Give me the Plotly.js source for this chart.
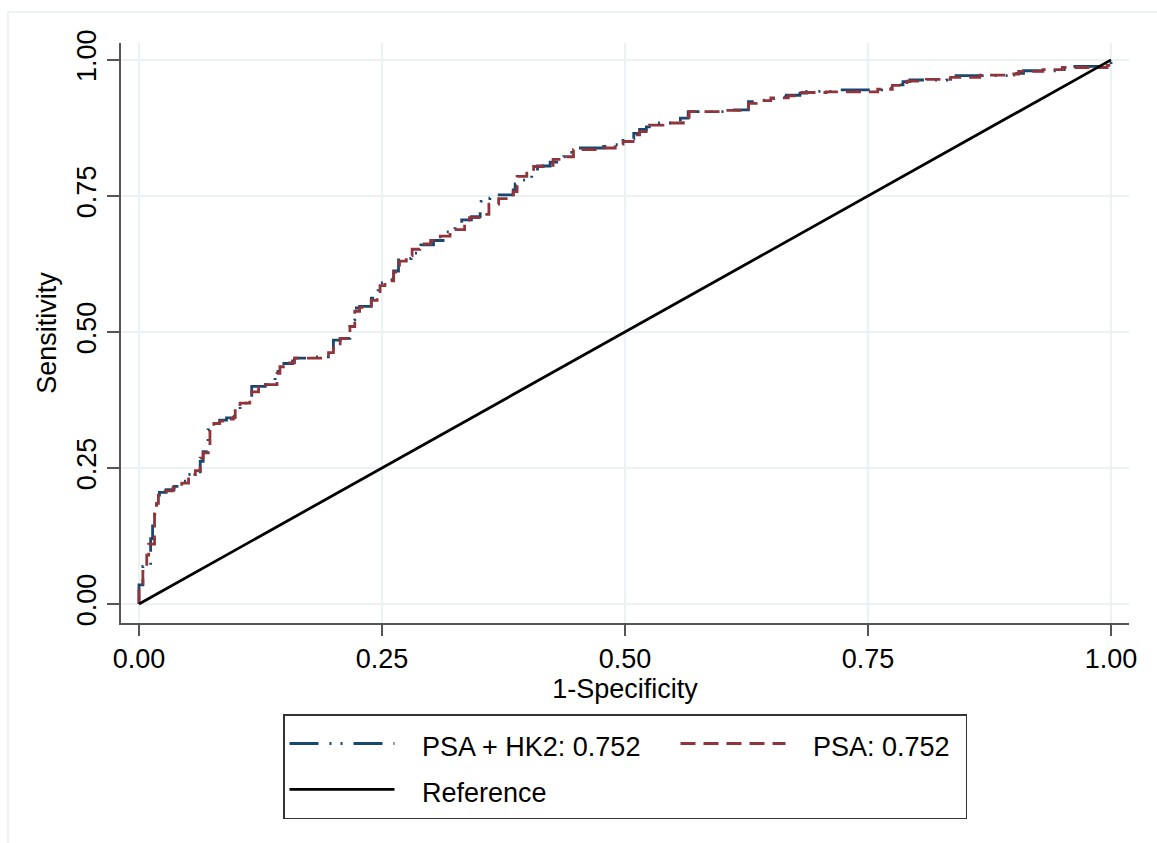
<!DOCTYPE html>
<html>
<head>
<meta charset="utf-8">
<script src="https://cdn.plot.ly/plotly-3.0.1.min.js"></script>
<style>html,body{margin:0;padding:0;background:#fff;}#chart{width:1157px;height:843px;}</style>
</head>
<body>
<div id="chart"></div>
<script>
// ROC curve: PSA + HK2 (1-specificity, sensitivity)
var xPsaHk2 = [0, 0, 0.004, 0.012, 0.014, 0.018, 0.021, 0.028, 0.036, 0.044, 0.050, 0.058, 0.063, 0.066, 0.071, 0.076, 0.083, 0.090, 0.098, 0.104, 0.114, 0.116, 0.130, 0.140, 0.143, 0.158, 0.160, 0.180, 0.195, 0.200, 0.207, 0.217, 0.222, 0.227, 0.239, 0.245, 0.246, 0.253, 0.262, 0.267, 0.280, 0.283, 0.290, 0.303, 0.315, 0.325, 0.332, 0.342, 0.351, 0.352, 0.361, 0.368, 0.385, 0.387, 0.395, 0.404, 0.410, 0.423, 0.437, 0.443, 0.447, 0.478, 0.485, 0.495, 0.498, 0.509, 0.515, 0.522, 0.529, 0.557, 0.565, 0.604, 0.627, 0.634, 0.646, 0.653, 0.666, 0.680, 0.687, 0.714, 0.764, 0.774, 0.786, 0.793, 0.831, 0.838, 0.903, 0.910, 0.951, 0.955, 0.996, 1];
var yPsaHk2 = [0, 0.035, 0.069, 0.120, 0.165, 0.190, 0.205, 0.210, 0.216, 0.226, 0.238, 0.243, 0.262, 0.280, 0.320, 0.332, 0.338, 0.342, 0.345, 0.369, 0.372, 0.400, 0.403, 0.423, 0.442, 0.447, 0.452, 0.454, 0.460, 0.485, 0.488, 0.522, 0.544, 0.547, 0.562, 0.572, 0.590, 0.596, 0.612, 0.635, 0.642, 0.645, 0.660, 0.668, 0.684, 0.690, 0.706, 0.712, 0.724, 0.740, 0.746, 0.752, 0.761, 0.772, 0.779, 0.792, 0.805, 0.812, 0.822, 0.830, 0.838, 0.841, 0.844, 0.850, 0.855, 0.865, 0.872, 0.877, 0.884, 0.893, 0.905, 0.908, 0.923, 0.926, 0.929, 0.932, 0.935, 0.939, 0.942, 0.945, 0.948, 0.954, 0.960, 0.963, 0.966, 0.971, 0.975, 0.980, 0.982, 0.988, 0.991, 1];

// ROC curve: PSA
var xPsa = [0, 0, 0.004, 0.008, 0.010, 0.016, 0.018, 0.020, 0.025, 0.035, 0.044, 0.051, 0.058, 0.063, 0.066, 0.073, 0.077, 0.083, 0.090, 0.097, 0.099, 0.104, 0.114, 0.116, 0.123, 0.130, 0.142, 0.145, 0.155, 0.160, 0.190, 0.195, 0.200, 0.207, 0.217, 0.222, 0.227, 0.239, 0.245, 0.248, 0.253, 0.262, 0.268, 0.275, 0.281, 0.289, 0.300, 0.310, 0.320, 0.335, 0.340, 0.350, 0.360, 0.370, 0.385, 0.389, 0.399, 0.406, 0.416, 0.426, 0.440, 0.447, 0.478, 0.490, 0.498, 0.510, 0.515, 0.525, 0.539, 0.560, 0.566, 0.600, 0.627, 0.635, 0.650, 0.668, 0.680, 0.707, 0.760, 0.775, 0.790, 0.810, 0.835, 0.865, 0.900, 0.905, 0.930, 0.950, 0.996, 1];
var yPsa = [0, 0.031, 0.060, 0.090, 0.110, 0.165, 0.185, 0.200, 0.208, 0.214, 0.222, 0.238, 0.245, 0.268, 0.278, 0.320, 0.332, 0.336, 0.340, 0.343, 0.363, 0.369, 0.374, 0.390, 0.398, 0.403, 0.424, 0.436, 0.443, 0.452, 0.453, 0.462, 0.478, 0.488, 0.510, 0.538, 0.545, 0.558, 0.570, 0.585, 0.594, 0.610, 0.630, 0.640, 0.652, 0.662, 0.668, 0.676, 0.688, 0.700, 0.710, 0.716, 0.735, 0.745, 0.758, 0.786, 0.795, 0.804, 0.806, 0.817, 0.822, 0.835, 0.838, 0.845, 0.850, 0.862, 0.868, 0.880, 0.884, 0.895, 0.905, 0.907, 0.920, 0.925, 0.930, 0.934, 0.940, 0.941, 0.946, 0.953, 0.961, 0.964, 0.968, 0.972, 0.974, 0.979, 0.982, 0.986, 0.990, 1];

// Reference diagonal
var xRef = [0, 1];
var yRef = [0, 1];

var tickVals = [0, 0.25, 0.5, 0.75, 1];
var tickLabels = ['0.00', '0.25', '0.50', '0.75', '1.00'];

var seriesNames = ['PSA + HK2: 0.752', 'PSA: 0.752', 'Reference'];

var FONT = 'Liberation Sans, Arial, Helvetica, sans-serif';
var NB = '\u00a0\u00a0\u00a0';
function legText(s) { return '<span style="font-size:27px">' + NB + s + '</span>'; }

var traces = [
  {x: xPsaHk2, y: yPsaHk2, type: 'scatter', mode: 'lines', name: legText(seriesNames[0]),
   line: {color: '#1a476f', width: 2.8, shape: 'hv', dash: '29px,11px,2px,9px,2px,11px'},
   legendwidth: 271, hoverinfo: 'skip'},
  {x: xPsa, y: yPsa, type: 'scatter', mode: 'lines', name: legText(seriesNames[1]),
   line: {color: '#90353b', width: 2.8, shape: 'hv', dash: '15px,8px'},
   legendwidth: 170, hoverinfo: 'skip'},
  {x: xRef, y: yRef, type: 'scatter', mode: 'lines', name: legText(seriesNames[2]),
   line: {color: '#000000', width: 2.8}, legendwidth: 271, hoverinfo: 'skip'}
];

var layout = {
  width: 1157, height: 843,
  margin: {l: 121, r: 28, t: 43, b: 220},
  paper_bgcolor: '#ffffff', plot_bgcolor: '#ffffff',
  font: {family: FONT, size: 27, color: '#000'},
  showlegend: true,
  xaxis: {
    range: [-0.0185, 1.0185], tickvals: tickVals, ticktext: tickLabels,
    showline: true, linecolor: '#555555', linewidth: 2, mirror: false,
    ticks: 'outside', ticklen: 11, tickwidth: 2, tickcolor: '#555555',
    showgrid: true, gridcolor: '#eaf2f3', gridwidth: 2, zeroline: false,
    tickfont: {family: FONT, size: 27, color: '#000'},
    title: {text: '1-Specificity', font: {family: FONT, size: 27, color: '#000'}, standoff: 3},
    fixedrange: true
  },
  yaxis: {
    range: [-0.0349, 1.031], tickvals: tickVals, ticktext: tickLabels, tickangle: -90,
    showline: true, linecolor: '#555555', linewidth: 2, mirror: false,
    ticks: 'outside', ticklen: 12, tickwidth: 2, tickcolor: '#555555',
    showgrid: true, gridcolor: '#eaf2f3', gridwidth: 2, zeroline: false,
    tickfont: {family: FONT, size: 27, color: '#000'},
    title: {text: 'Sensitivity', font: {family: FONT, size: 27, color: '#000'}, standoff: 8},
    fixedrange: true
  },
  legend: {
    orientation: 'h', x: 0.5, xanchor: 'center', y: -0.157, yanchor: 'top',
    bordercolor: '#333333', borderwidth: 1.5, bgcolor: '#ffffff',
    font: {family: FONT, size: 33, color: '#000'},
    itemwidth: 105, traceorder: 'normal', itemclick: false, itemdoubleclick: false
  },
  shapes: [
    {type: 'rect', xref: 'paper', yref: 'paper', x0: -0.1121, x1: 1.05, y0: -0.45, y1: 1.0534,
     line: {color: '#e6eef0', width: 1.5}, fillcolor: 'rgba(0,0,0,0)', layer: 'below'}
  ]
};

Plotly.newPlot('chart', traces, layout, {displayModeBar: false, staticPlot: true});
</script>
</body>
</html>
